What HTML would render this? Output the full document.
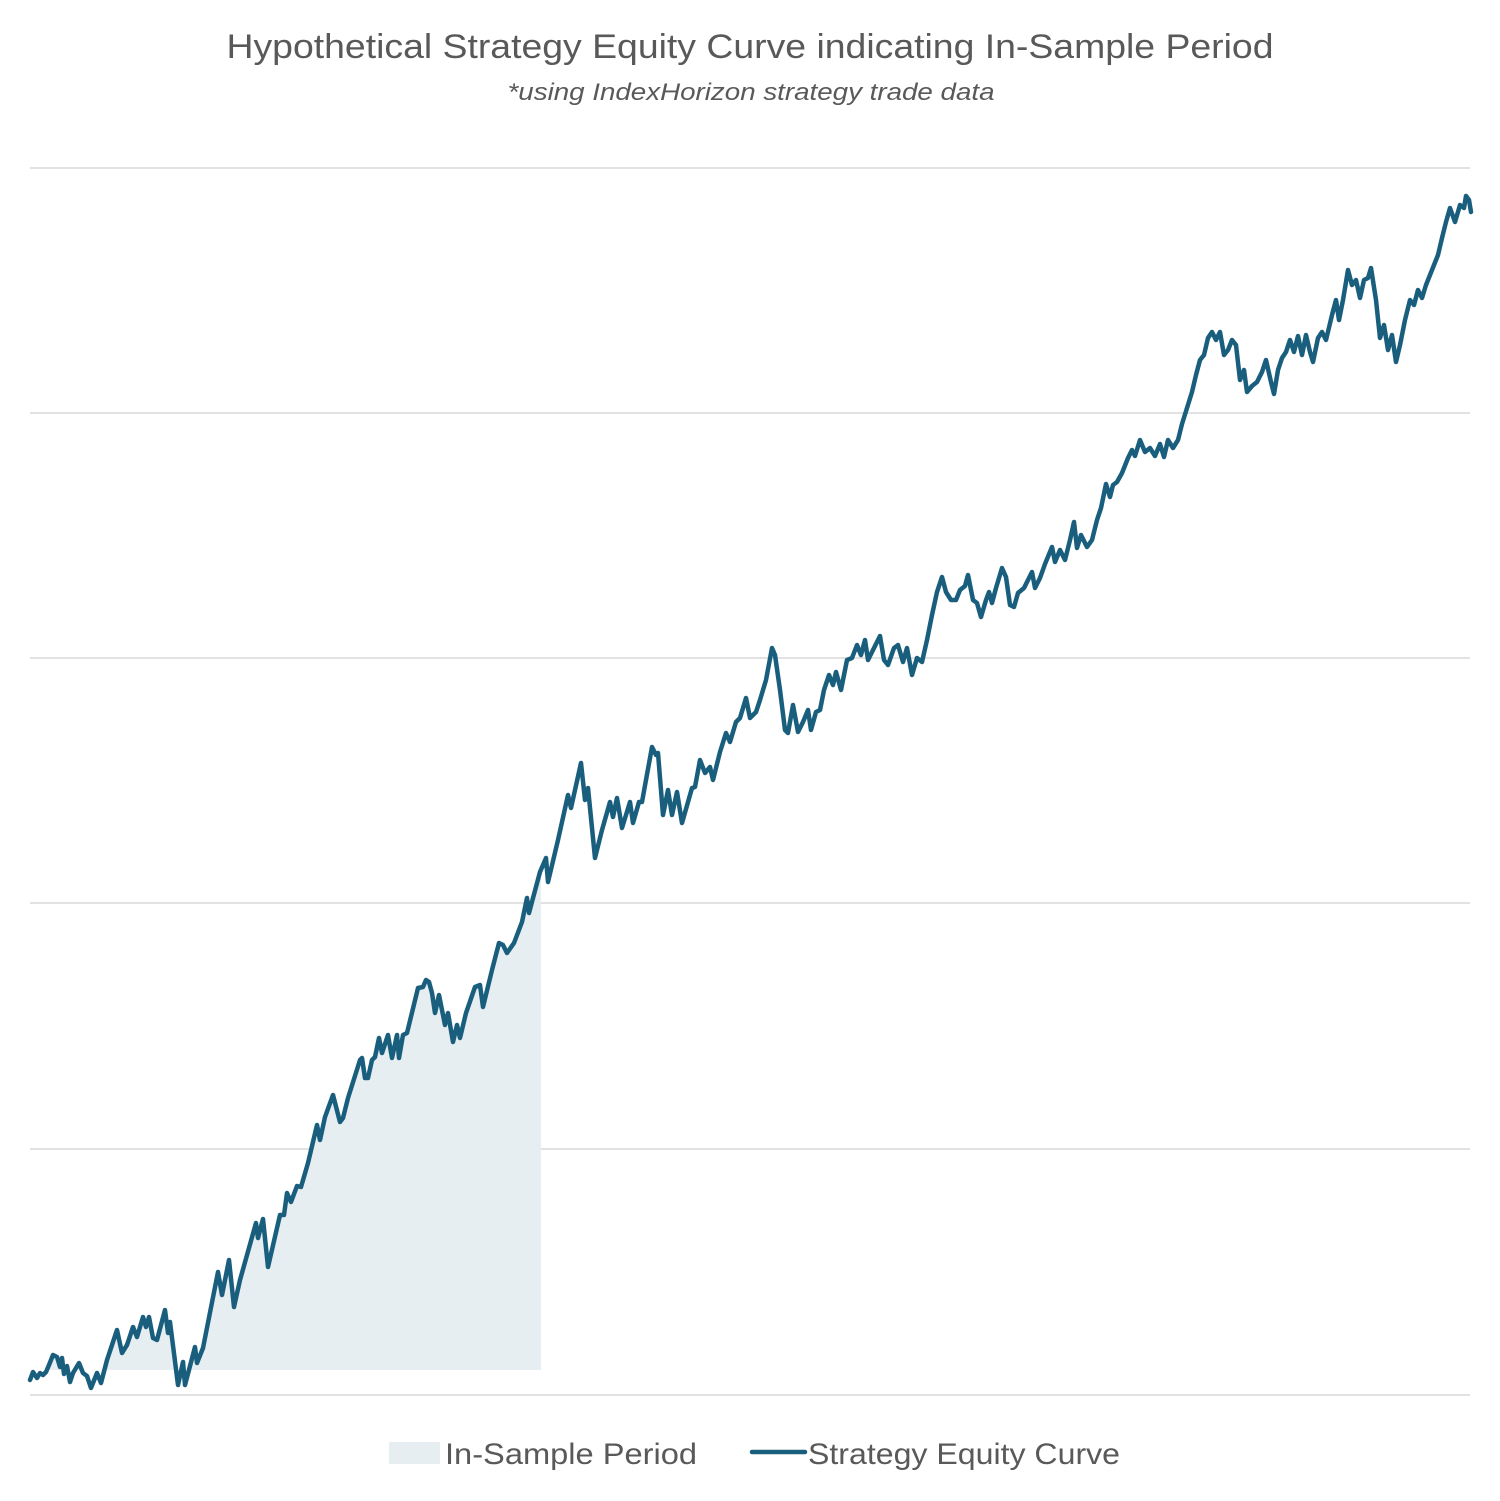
<!DOCTYPE html>
<html><head><meta charset="utf-8"><style>html,body{margin:0;padding:0;background:#fff}svg{display:block}</style></head>
<body>
<svg width="1500" height="1501" viewBox="0 0 1500 1501" xmlns="http://www.w3.org/2000/svg" font-family="Liberation Sans, sans-serif">
<rect width="1500" height="1501" fill="#fff"/>
<text x="750" y="58" text-anchor="middle" font-size="34" fill="#595959" textLength="1047" lengthAdjust="spacingAndGlyphs">Hypothetical Strategy Equity Curve indicating In-Sample Period</text>
<text x="751" y="100" text-anchor="middle" font-size="24" font-style="italic" fill="#595959" textLength="487" lengthAdjust="spacingAndGlyphs">*using IndexHorizon strategy trade data</text>
<g stroke="#d9d9d9" stroke-width="1.5">
<line x1="30" x2="1470" y1="168" y2="168"/><line x1="30" x2="1470" y1="413" y2="413"/><line x1="30" x2="1470" y1="658" y2="658"/><line x1="30" x2="1470" y1="903" y2="903"/><line x1="30" x2="1470" y1="1149" y2="1149"/><line x1="30" x2="1470" y1="1395" y2="1395"/>
</g>
<clipPath id="c"><rect x="30" y="0" width="511" height="1370"/></clipPath>
<polygon id="fillp" clip-path="url(#c)" fill="#e6eef2" points=""/>
<polyline id="ln" fill="none" stroke="#1a5e7e" stroke-width="4.5" stroke-linejoin="round" stroke-linecap="round" points=""/>
<rect x="389" y="1442" width="51" height="22" fill="#e6eef2"/>
<text x="445" y="1464" font-size="30" fill="#595959" textLength="252" lengthAdjust="spacingAndGlyphs">In-Sample Period</text>
<line x1="752" x2="805" y1="1452" y2="1452" stroke="#1a5e7e" stroke-width="4.5" stroke-linecap="round"/>
<text x="808" y="1464" font-size="30" fill="#595959" textLength="312" lengthAdjust="spacingAndGlyphs">Strategy Equity Curve</text>
</svg>
<script>
var p=[30,1380,33,1372,37,1378,40,1373,43,1375,46,1372,49,1365,53,1355,57,1357,60,1367,62,1358,64,1374,67,1366,70,1382,73,1373,79,1363,83,1373,87,1376,91,1388,97,1373,101,1383,107,1360,117,1330,122,1353,127,1345,133,1327,137,1337,143,1317,146,1327,149,1317,153,1338,157,1340,165,1310,168,1333,170,1322,178,1385,183,1362,185,1385,195,1347,197,1363,203,1348,218,1272,222,1295,229,1260,234,1307,240,1280,256,1223,258,1238,263,1219,268,1267,280,1215,284,1215,287,1193,291,1202,297,1186,301,1187,308,1163,317,1125,320,1140,325,1117,333,1095,340,1122,343,1118,348,1098,360,1060,362,1058,365,1078,368,1078,372,1060,375,1057,379,1038,382,1053,388,1035,392,1058,397,1035,399,1058,403,1035,407,1033,418,988,423,987,426,980,429,982,432,993,435,1013,439,995,445,1025,448,1013,453,1042,457,1025,460,1038,466,1013,475,987,480,985,483,1007,492,970,499,943,503,945,507,953,514,943,522,922,527,898,529,913,540,872,546,858,548,882,558,840,568,795,571,808,581,763,585,800,588,788,595,858,602,830,610,802,613,817,617,798,622,828,630,802,633,823,639,802,642,802,652,747,656,755,658,753,663,815,668,790,672,815,677,792,682,823,692,788,695,787,700,760,705,773,710,767,713,780,720,752,726,733,730,742,736,722,740,718,746,698,750,718,756,712,760,700,766,680,772,648,775,655,780,690,785,730,788,733,793,705,798,732,803,722,808,710,811,730,816,712,820,710,824,690,829,675,833,685,836,672,841,690,847,660,852,658,857,645,861,655,865,640,868,660,873,650,880,636,884,660,888,665,894,648,898,645,903,662,907,648,912,675,917,658,922,662,927,640,932,615,937,592,942,577,946,592,951,600,956,600,960,590,965,586,968,575,973,600,977,603,981,617,986,600,989,592,992,603,996,588,1002,568,1006,577,1010,605,1014,607,1018,593,1024,588,1028,580,1032,572,1035,588,1040,578,1045,564,1052,547,1055,562,1060,550,1065,560,1070,540,1074,522,1077,548,1081,535,1087,547,1092,540,1097,520,1101,508,1106,484,1110,497,1113,485,1117,482,1122,473,1128,458,1132,450,1135,456,1140,440,1145,452,1150,448,1155,456,1160,444,1164,457,1168,440,1173,448,1178,440,1182,424,1187,408,1192,392,1196,375,1200,360,1204,355,1208,338,1212,332,1216,340,1220,332,1224,355,1228,350,1232,340,1236,345,1240,380,1244,370,1247,392,1252,386,1257,382,1262,372,1266,360,1271,382,1274,394,1278,370,1282,358,1286,352,1290,340,1294,352,1298,336,1302,355,1306,335,1310,352,1313,362,1318,338,1322,332,1326,340,1332,315,1336,300,1339,320,1343,300,1348,270,1352,285,1356,280,1360,298,1364,280,1368,278,1371,268,1376,300,1380,338,1384,325,1388,350,1392,335,1396,362,1400,345,1405,320,1410,300,1414,305,1418,290,1422,298,1426,285,1432,270,1438,255,1442,238,1446,222,1450,208,1455,222,1460,205,1464,208,1466,196,1469,200,1471,212];
var s=[];for(var i=0;i<p.length;i+=2)s.push(p[i]+","+p[i+1]);
document.getElementById("ln").setAttribute("points",s.join(" "));
var f=[];for(var i=0;i<p.length;i+=2){if(p[i]<=560)f.push(p[i]+","+p[i+1]);}
f.push("560,1370","30,1370");
document.getElementById("fillp").setAttribute("points",f.join(" "));
</script>
</body></html>
